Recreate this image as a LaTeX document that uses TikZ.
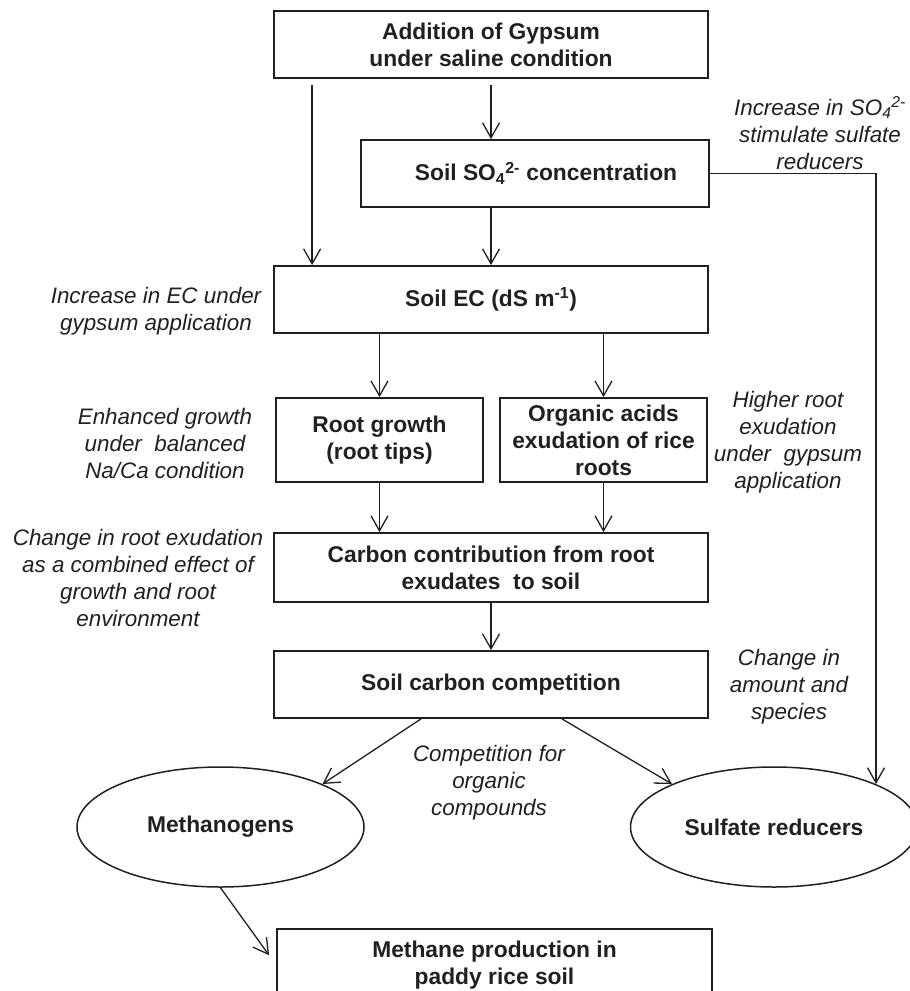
\documentclass[tikz,border=0pt]{standalone}
\usepackage{fontspec}
\setmainfont{Liberation Sans}
\usetikzlibrary{shapes.geometric,arrows.meta}

\definecolor{inkC}{RGB}{35,31,32}
\newcommand{\boxtxt}{\fontsize{22.8}{27}\selectfont\bfseries}
\newcommand{\notetxt}{\fontsize{22.4}{27}\selectfont\itshape}

\tikzset{
	box/.style={draw=inkC, line width=1.8pt, minimum width=434pt, minimum height=67pt, align=center, font=\boxtxt, text=inkC, inner sep=2pt},
	bubble/.style={ellipse, draw=inkC, line width=1.5pt, minimum width=287pt, minimum height=120pt, font=\boxtxt, text=inkC, inner sep=0pt},
	note/.style={align=center, font=\notetxt, text=inkC, inner sep=0pt},
	flow/.style={draw=inkC, line width=1.3pt, -{Straight Barb[length=15pt,width=17pt]}}
}

\begin{document}
\begin{tikzpicture}[x=1pt, y=-1pt]
			\useasboundingbox (0,0) rectangle (910,991);
			
			% boxes of the main chain
			\node[box] (gyp) at (491,44.5) {Addition of Gypsum\\under saline condition};
			\node[box, minimum width=348pt] (so4) at (535,173.5) {\hspace*{22pt}Soil SO\textsubscript{4}\textsuperscript{2-} concentration};
			\node[box] (ec) at (491,299.5) {Soil EC (dS m\textsuperscript{-1})};
			\node[box, minimum width=207pt, minimum height=84pt] (root) at (379.5,440) {Root growth\\(root tips)};
			\node[box, minimum width=207pt, minimum height=84pt] (org) at (603.5,440) {Organic acids\\exudation of rice\\roots};
			\node[box, minimum height=69pt] (carb) at (491,567.5) {Carbon contribution from root\\exudates \ to soil};
			\node[box] (comp) at (491,684.5) {Soil carbon competition};
			\node[bubble] (meth) at (220.5,827) {Methanogens};
			\node[bubble] (sulf) at (774,827) {Sulfate reducers};
			\node[box, minimum width=435pt, minimum height=72pt] (mp) at (494.5,965) {Methane production in\\paddy rice soil};
			
			% side notes
			\node[note] (nso4) at (820,133) {Increase in SO\textsubscript{4}\textsuperscript{2-}\\stimulate sulfate\\reducers};
			\node[note] (nec) at (156,311.5) {Increase in EC under\\gypsum application};
			\node[note] (nroot) at (165,443.5) {Enhanced growth\\under \ balanced\\Na/Ca condition};
			\node[note] (norg) at (788,442) {Higher root\\exudation\\under \ gypsum\\application};
			\node[note] (ncarb) at (138,577.5) {Change in root exudation\\as a combined effect of\\growth and root\\environment};
			\node[note] (ncomp) at (789,687) {Change in\\amount and\\species};
			\node[note] (nmid) at (489,782.5) {Competition for\\organic\\compounds};
			
			% arrows
			\draw[flow, shorten <=6pt] ([xshift=39pt]gyp.south west) -- ([xshift=39pt]ec.north west);
			\draw[flow, shorten <=6pt] (gyp.south) -- (gyp.south |- so4.north);
			\draw[flow] (so4.south -| ec.north) -- (ec.north);
			\draw[flow] (ec.south -| root.north) -- (root.north);
			\draw[flow] (ec.south -| org.north) -- (org.north);
			\draw[flow] (root.south) -- (root.south |- carb.north);
			\draw[flow] (org.south) -- (org.south |- carb.north);
			\draw[flow] (carb.south) -- (comp.north);
			\draw[flow] ([xshift=-70pt]comp.south) -- (meth.north east);
			\draw[flow] ([xshift=71pt]comp.south) -- (sulf.north west);
			\draw[flow] (so4.east) -| (sulf.north east);
			\draw[flow, shorten >=12pt] (meth.south) -- (mp.west);
			
\end{tikzpicture}
\end{document}
